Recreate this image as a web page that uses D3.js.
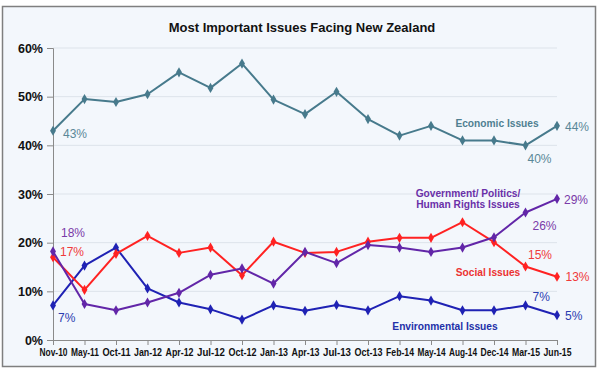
<!DOCTYPE html>
<html><head><meta charset="utf-8">
<script src="https://cdn.jsdelivr.net/npm/d3@7"></script>
<style>
html,body{margin:0;padding:0;background:#fff;}
svg{display:block;font-family:"Liberation Sans",Arial,sans-serif;}
</style></head>
<body><svg id="c" width="600" height="370"></svg>
<script>
const categories = ["Nov-10","May-11","Oct-11","Jan-12","Apr-12","Jul-12","Oct-12","Jan-13","Apr-13","Jul-13","Oct-13","Feb-14","May-14","Aug-14","Dec-14","Mar-15","Jun-15"];
const economic     = [43, 49.5, 48.9, 50.5, 55, 51.8, 56.8, 49.4, 46.4, 51, 45.4, 42, 44, 41, 41, 40, 44];
const social       = [17, 10.3, 17.7, 21.4, 17.9, 19, 13.3, 20.2, 17.9, 18.1, 20.2, 21, 21, 24.2, 20.1, 15.1, 13];
const government   = [18.2, 7.4, 6.1, 7.7, 9.7, 13.4, 14.7, 11.6, 18.1, 15.8, 19.5, 19, 18.1, 19, 21.1, 26.2, 29];
const environmental= [7.1, 15.3, 19, 10.6, 7.7, 6.3, 4.2, 7.1, 6, 7.2, 6.1, 9, 8.1, 6.1, 6.1, 7.1, 5.1];
const yTicks = [0, 10, 20, 30, 40, 50, 60];
const title = "Most Important Issues Facing New Zealand";
const seriesNames = ["Economic Issues", "Environmental Issues", "Social Issues", ["Government/ Politics/", "Human Rights Issues"]];
// value labels: [series index, category index, text]
const valueLabels = [
  [0, 0, "43%"], [0, 15, "40%"], [0, 16, "44%"],
  [1, 0, "7%"], [1, 15, "7%"], [1, 16, "5%"],
  [2, 0, "17%"], [2, 15, "15%"], [2, 16, "13%"],
  [3, 0, "18%"], [3, 15, "26%"], [3, 16, "29%"]
];

(function () {
const svg = d3.select("#c");
const pL = 53, pR = 557, pT = 48, pB = 340;

const x = d3.scalePoint().domain(categories).range([pL, pR]);
const y = d3.scaleLinear().domain([0, 60]).range([pB, pT]);

// frame
svg.append("rect").attr("x", 2.5).attr("y", 6.5).attr("width", 593).attr("height", 360)
  .attr("fill", "#f3f7fc").attr("stroke", "#7f7f7f").attr("stroke-width", 1.5);

// title
svg.append("text").attr("x", 302).attr("y", 31.5).attr("text-anchor", "middle")
  .attr("font-size", 13).attr("font-weight", "bold").attr("fill", "#111").text(title);

// grid
svg.append("g").selectAll("line").data(yTicks.filter(d => d > 0)).join("line")
  .attr("x1", pL).attr("x2", pR).attr("y1", d => y(d)).attr("y2", d => y(d))
  .attr("stroke", "#dde3ea").attr("stroke-width", 1);

// y axis
const yAxis = svg.append("g").attr("transform", `translate(${pL},0)`)
  .call(d3.axisLeft(y).tickValues(yTicks).tickFormat(d => d + "%").tickSize(6).tickPadding(4));
yAxis.select(".domain").attr("stroke", "#8a8a8a");
yAxis.selectAll(".tick line").attr("stroke", "#8a8a8a");
yAxis.selectAll("text").attr("font-size", 12.5).attr("font-weight", "bold").attr("fill", "#111")
  .attr("font-family", "Liberation Sans, Arial, sans-serif");

// x axis
const xAxis = svg.append("g").attr("transform", `translate(0,${pB})`)
  .call(d3.axisBottom(x).tickSize(5).tickPadding(4).tickSizeOuter(0));
xAxis.select(".domain").attr("stroke", "#8a8a8a");
xAxis.selectAll(".tick line").attr("stroke", "#8a8a8a");
xAxis.selectAll("text").attr("font-size", 10).attr("font-weight", "bold").attr("fill", "#111")
  .attr("font-family", "Liberation Sans, Arial, sans-serif")
  .attr("textLength", 28).attr("lengthAdjust", "spacingAndGlyphs");

const series = [
  {vals: economic, line: "#477a8c", label: "#5a8797", name: "#4f7f91"},
  {vals: environmental, line: "#1f22b4", label: "#2b3cb0", name: "#2230a8"},
  {vals: social, line: "#ff2222", label: "#f03a3a", name: "#ec3232"},
  {vals: government, line: "#6226a8", label: "#7a3aa8", name: "#6a30a8"}
];

const lineGen = d3.line().x((d, i) => x(categories[i])).y(d => y(d));
const diamond = d3.symbol().type(d3.symbolDiamond).size(30);

series.forEach(s => {
  const g = svg.append("g");
  g.append("path").datum(s.vals).attr("d", lineGen).attr("fill", "none")
    .attr("stroke", s.line).attr("stroke-width", 2).attr("stroke-linejoin", "round");
  g.selectAll("path.m").data(s.vals).join("path").attr("class", "m")
    .attr("d", diamond)
    .attr("transform", (d, i) => `translate(${x(categories[i])},${y(d)})`)
    .attr("fill", s.line);
});

// value labels (offsets relative to point, start-anchored)
const labelOffsets = {
  "0-0": [10, 7.3], "0-15": [2, 18], "0-16": [8, 5],
  "1-0": [5, 16.6], "1-15": [7, -4.4], "1-16": [8, 4.8],
  "2-0": [7, -1], "2-15": [2.5, -7.2], "2-16": [8.5, 4.3],
  "3-0": [8, -14.4], "3-15": [7, 17.8], "3-16": [7, 5.4]
};
valueLabels.forEach(([si, ci, t]) => {
  const o = labelOffsets[si + "-" + ci];
  svg.append("text")
    .attr("x", x(categories[ci]) + o[0])
    .attr("y", y(series[si].vals[ci]) + o[1])
    .attr("text-anchor", "start").attr("font-size", 12).attr("fill", series[si].label).text(t);
});

// series names
const nameSpecs = [
  {s: 0, ci: 13, v: 43.8, dx: 34.5},
  {s: 1, ci: 10, v: 2.05, dx: 77},
  {s: 2, ci: 13, v: 13.25, dx: 25.5},
  {s: 3, ci: 12, v: 29.4, dx: 37}
];
nameSpecs.forEach(n => {
  const nm = seriesNames[n.s];
  const lines = Array.isArray(nm) ? nm : [nm];
  const t = svg.append("text").attr("text-anchor", "middle").attr("font-size", 10.2)
    .attr("font-weight", "bold").attr("fill", series[n.s].name);
  lines.forEach((l, k) => {
    t.append("tspan").attr("x", x(categories[n.ci]) + n.dx).attr("y", y(n.v) + k * 11).text(l);
  });
});
})();
</script></body></html>
